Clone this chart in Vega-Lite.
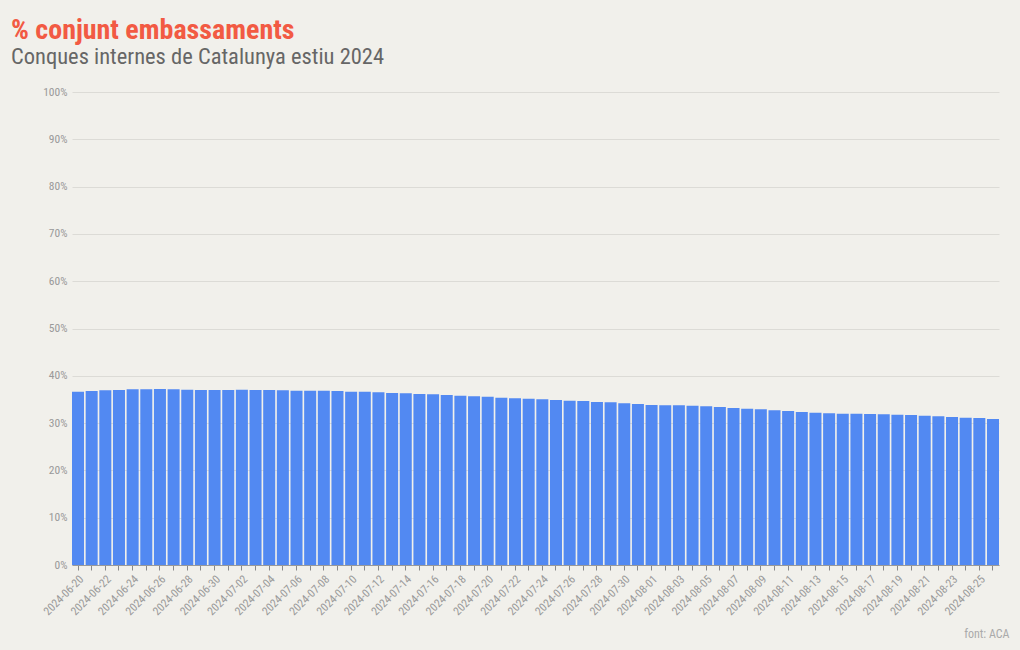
{
  "$schema": "https://vega.github.io/schema/vega-lite/v6.json",
  "autosize": {"type": "none"},
  "width": 927,
  "height": 473,
  "padding": {"left": 72, "top": 92, "right": 21, "bottom": 85},
  "background": "#f1f0eb",
  "config": {
    "view": {"stroke": null},
    "font": "Roboto Condensed, Roboto"
  },
  "title": {
    "text": "% conjunt embassaments",
    "subtitle": "Conques internes de Catalunya estiu 2024",
    "anchor": "start",
    "frame": "group",
    "dx": -61,
    "offset": 18,
    "font": "Roboto Condensed, Roboto",
    "fontSize": 28,
    "fontWeight": "bold",
    "color": "#f25a43",
    "subtitleFont": "Roboto Condensed, Roboto",
    "subtitleFontSize": 22.5,
    "subtitleColor": "#666666",
    "subtitlePadding": 1
  },
  "data": {
    "values": [
      {"data": "2024-06-20", "pct": 36.64},
      {"data": "2024-06-21", "pct": 36.79},
      {"data": "2024-06-22", "pct": 36.93},
      {"data": "2024-06-23", "pct": 37.0},
      {"data": "2024-06-24", "pct": 37.15},
      {"data": "2024-06-25", "pct": 37.15},
      {"data": "2024-06-26", "pct": 37.21},
      {"data": "2024-06-27", "pct": 37.15},
      {"data": "2024-06-28", "pct": 37.06},
      {"data": "2024-06-29", "pct": 37.0},
      {"data": "2024-06-30", "pct": 37.0},
      {"data": "2024-07-01", "pct": 37.0},
      {"data": "2024-07-02", "pct": 37.06},
      {"data": "2024-07-03", "pct": 37.0},
      {"data": "2024-07-04", "pct": 37.0},
      {"data": "2024-07-05", "pct": 36.93},
      {"data": "2024-07-06", "pct": 36.85},
      {"data": "2024-07-07", "pct": 36.86},
      {"data": "2024-07-08", "pct": 36.86},
      {"data": "2024-07-09", "pct": 36.79},
      {"data": "2024-07-10", "pct": 36.65},
      {"data": "2024-07-11", "pct": 36.65},
      {"data": "2024-07-12", "pct": 36.5},
      {"data": "2024-07-13", "pct": 36.36},
      {"data": "2024-07-14", "pct": 36.29},
      {"data": "2024-07-15", "pct": 36.15},
      {"data": "2024-07-16", "pct": 36.08},
      {"data": "2024-07-17", "pct": 35.94},
      {"data": "2024-07-18", "pct": 35.8},
      {"data": "2024-07-19", "pct": 35.66},
      {"data": "2024-07-20", "pct": 35.59},
      {"data": "2024-07-21", "pct": 35.38},
      {"data": "2024-07-22", "pct": 35.24},
      {"data": "2024-07-23", "pct": 35.16},
      {"data": "2024-07-24", "pct": 35.03},
      {"data": "2024-07-25", "pct": 34.88},
      {"data": "2024-07-26", "pct": 34.74},
      {"data": "2024-07-27", "pct": 34.67},
      {"data": "2024-07-28", "pct": 34.46},
      {"data": "2024-07-29", "pct": 34.39},
      {"data": "2024-07-30", "pct": 34.18},
      {"data": "2024-07-31", "pct": 34.04},
      {"data": "2024-08-01", "pct": 33.83},
      {"data": "2024-08-02", "pct": 33.76},
      {"data": "2024-08-03", "pct": 33.76},
      {"data": "2024-08-04", "pct": 33.69},
      {"data": "2024-08-05", "pct": 33.55},
      {"data": "2024-08-06", "pct": 33.4},
      {"data": "2024-08-07", "pct": 33.19},
      {"data": "2024-08-08", "pct": 33.05},
      {"data": "2024-08-09", "pct": 32.91},
      {"data": "2024-08-10", "pct": 32.74},
      {"data": "2024-08-11", "pct": 32.56},
      {"data": "2024-08-12", "pct": 32.35},
      {"data": "2024-08-13", "pct": 32.21},
      {"data": "2024-08-14", "pct": 32.07},
      {"data": "2024-08-15", "pct": 31.99},
      {"data": "2024-08-16", "pct": 31.99},
      {"data": "2024-08-17", "pct": 31.92},
      {"data": "2024-08-18", "pct": 31.85},
      {"data": "2024-08-19", "pct": 31.78},
      {"data": "2024-08-20", "pct": 31.71},
      {"data": "2024-08-21", "pct": 31.57},
      {"data": "2024-08-22", "pct": 31.43},
      {"data": "2024-08-23", "pct": 31.29},
      {"data": "2024-08-24", "pct": 31.15},
      {"data": "2024-08-25", "pct": 31.08},
      {"data": "2024-08-26", "pct": 30.87}
    ]
  },
  "mark": {"type": "bar", "color": "#5289f2"},
  "encoding": {
    "x": {
      "field": "data",
      "type": "ordinal",
      "scale": {"paddingInner": 0.12, "paddingOuter": 0},
      "axis": {
        "title": "font: ACA",
        "titleAnchor": "end",
        "titleAlign": "right",
        "titleBaseline": "alphabetic",
        "titleX": 937,
        "titleY": 72,
        "titleColor": "#aaaaaa",
        "titleFontSize": 12,
        "titleFontWeight": "normal",
        "labelAngle": -45,
        "labelFontSize": 11.5,
        "labelColor": "#999999",
        "labelExpr": "round(datum.index * 67) % 2 == 0 ? datum.label : ''",
        "labelPadding": 3,
        "tickColor": "#888888",
        "tickSize": 5,
        "domainColor": "#999999",
        "grid": false
      }
    },
    "y": {
      "field": "pct",
      "type": "quantitative",
      "scale": {"domain": [0, 100]},
      "axis": {
        "title": null,
        "values": [0, 10, 20, 30, 40, 50, 60, 70, 80, 90, 100],
        "labelExpr": "datum.value + '%'",
        "labelFontSize": 11.5,
        "labelColor": "#999999",
        "labelPadding": 5,
        "ticks": false,
        "domain": false,
        "gridColor": "#dcdbd6",
        "gridWidth": 1
      }
    }
  }
}
